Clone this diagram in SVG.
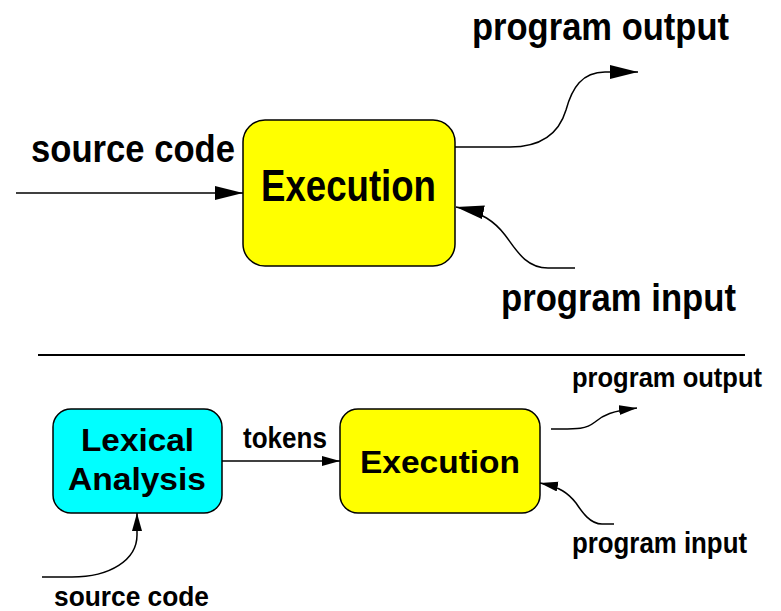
<svg xmlns="http://www.w3.org/2000/svg" width="781" height="611" viewBox="0 0 781 611">
  <style>
    text { font-family: "Liberation Sans", Arial, Helvetica, sans-serif; font-weight: bold; fill: #000; }
    .box { stroke: #000; stroke-width: 1.5; }
    .exec { fill: #ffff00; }
    .lex { fill: #00ffff; }
    .wire { fill: none; stroke: #000; stroke-width: 1.5; }
    .big { marker-end: url(#arrowBig); }
    .small { marker-end: url(#arrowSmall); }
  </style>
  <defs>
    <marker id="arrowBig" markerUnits="userSpaceOnUse" markerWidth="30" markerHeight="16" refX="28" refY="7" orient="auto">
      <path d="M0,0 L28,7 L0,14 z" fill="#000"/>
    </marker>
    <marker id="arrowSmall" markerUnits="userSpaceOnUse" markerWidth="20" markerHeight="12" refX="18" refY="5" orient="auto">
      <path d="M0,0 L18,5 L0,10 z" fill="#000"/>
    </marker>
  </defs>

  <rect width="781" height="611" fill="#fff"/>

  <!-- upper scheme: direct execution -->
  <g id="exec-top">
    <rect class="box exec" x="243" y="120" width="212" height="146" rx="22"/>
    <text x="261" y="201" font-size="44" textLength="175" lengthAdjust="spacingAndGlyphs">Execution</text>
  </g>
  <g id="label-source-top">
    <text x="31" y="162" font-size="38" textLength="204" lengthAdjust="spacingAndGlyphs">source code</text>
  </g>
  <g id="label-output-top">
    <text x="472" y="40" font-size="38" textLength="257" lengthAdjust="spacingAndGlyphs">program output</text>
  </g>
  <g id="label-input-top">
    <text x="501" y="311" font-size="38" textLength="235" lengthAdjust="spacingAndGlyphs">program input</text>
  </g>

  <!-- separator -->
  <line x1="38" y1="355" x2="745" y2="355" stroke="#000" stroke-width="2"/>

  <!-- lower scheme: lexical analysis then execution -->
  <g id="lexical">
    <rect class="box lex" x="53" y="409" width="169" height="104" rx="18"/>
    <text x="81" y="451" font-size="32" textLength="113" lengthAdjust="spacingAndGlyphs">Lexical</text>
    <text x="68" y="490" font-size="32" textLength="138" lengthAdjust="spacingAndGlyphs">Analysis</text>
  </g>
  <g id="exec-bottom">
    <rect class="box exec" x="340" y="409" width="200" height="104" rx="18"/>
    <text x="360" y="473" font-size="31" textLength="160" lengthAdjust="spacingAndGlyphs">Execution</text>
  </g>
  <g id="label-tokens">
    <text x="243" y="448" font-size="29" textLength="84" lengthAdjust="spacingAndGlyphs">tokens</text>
  </g>
  <g id="label-output-bottom">
    <text x="572" y="387" font-size="28" textLength="190" lengthAdjust="spacingAndGlyphs">program output</text>
  </g>
  <g id="label-input-bottom">
    <text x="572" y="553" font-size="29" textLength="175" lengthAdjust="spacingAndGlyphs">program input</text>
  </g>
  <g id="label-source-bottom">
    <text x="54" y="606" font-size="28" textLength="155" lengthAdjust="spacingAndGlyphs">source code</text>
  </g>

  <g id="connectors">
    <path class="wire big" d="M16,193 L243,193"/>
    <path class="wire big" d="M455,147 L510,147 C545,147 560,130 566,110 C572,88 582,72 605,72 L638,72"/>
    <path class="wire big" d="M575,268 L548,268 C525,268 515,248 505,235 C495,222 482,212 456,207"/>
    <path class="wire small" d="M222,461 L340,461"/>
    <path class="wire small" d="M551,429 C575,429 585,430 595,422 C603,415 612,411 637,408"/>
    <path class="wire small" d="M614,524 L602,524 C590,524 582,512 576,503 C568,493 560,487 540,483"/>
    <path class="wire small" d="M42,577 L72,577 C110,577 137,560 137,535 L137,513"/>
  </g>
</svg>
